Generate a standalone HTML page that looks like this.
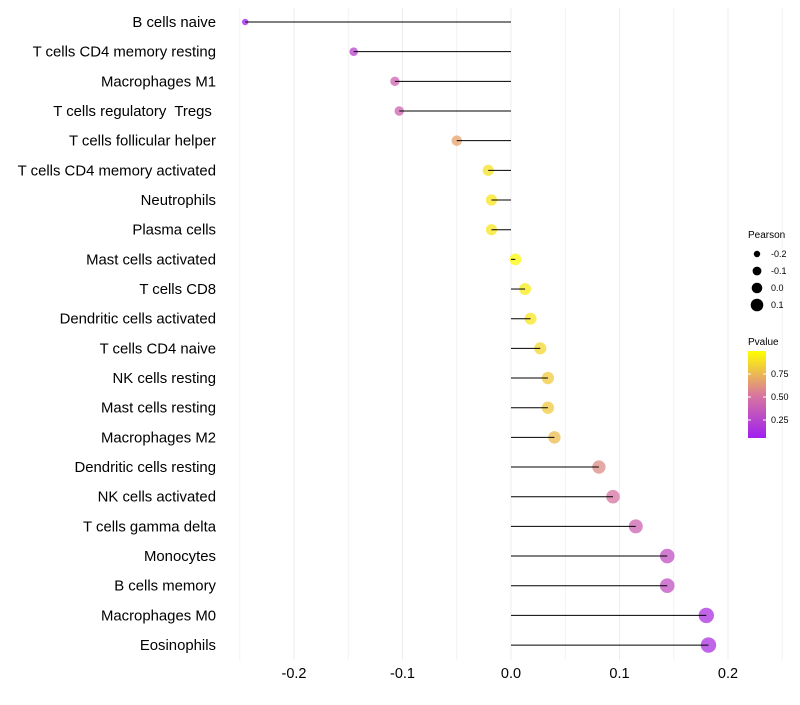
<!DOCTYPE html>
<html><head><meta charset="utf-8"><style>
body{margin:0;background:#fff;font-family:"Liberation Sans",sans-serif}
</style></head><body>
<svg id="chart" width="800" height="700" xmlns="http://www.w3.org/2000/svg">
<defs><linearGradient id="pg" x1="0" y1="1" x2="0" y2="0">
<stop offset="0" stop-color="#a020f0"/><stop offset="0.5" stop-color="#d9789c"/><stop offset="1" stop-color="#ffff00"/></linearGradient></defs>
<g id="grid"></g><g id="dots"></g><g id="marks"></g><g id="labels"></g>
<g font-size="9" fill="#000">
<text x="748" y="238" font-size="10">Pearson</text>
<circle cx="757" cy="254" r="3.2"/><text x="771" y="257">-0.2</text>
<circle cx="757" cy="271" r="4.4"/><text x="771" y="274">-0.1</text>
<circle cx="757" cy="288" r="5.3"/><text x="771" y="291">0.0</text>
<circle cx="757" cy="305" r="6.3"/><text x="771" y="308">0.1</text>
</g>
<g font-size="9" fill="#000">
<text x="748" y="345" font-size="10">Pvalue</text>
<rect x="748" y="351" width="18" height="87" fill="url(#pg)"/>
<line x1="748" y1="374" x2="751" y2="374" stroke="#fff"/><line x1="763" y1="374" x2="766" y2="374" stroke="#fff"/>
<line x1="748" y1="397" x2="751" y2="397" stroke="#fff"/><line x1="763" y1="397" x2="766" y2="397" stroke="#fff"/>
<line x1="748" y1="420" x2="751" y2="420" stroke="#fff"/><line x1="763" y1="420" x2="766" y2="420" stroke="#fff"/>
<text x="771" y="377">0.75</text><text x="771" y="400">0.50</text><text x="771" y="423">0.25</text>
</g>
</svg>
<script>
const categories=["B cells naive","T cells CD4 memory resting","Macrophages M1","T cells regulatory  Tregs ","T cells follicular helper","T cells CD4 memory activated","Neutrophils","Plasma cells","Mast cells activated","T cells CD8","Dendritic cells activated","T cells CD4 naive","NK cells resting","Mast cells resting","Macrophages M2","Dendritic cells resting","NK cells activated","T cells gamma delta","Monocytes","B cells memory","Macrophages M0","Eosinophils"];
const pearson=[-0.245,-0.145,-0.107,-0.103,-0.050,-0.021,-0.018,-0.018,0.004,0.013,0.018,0.027,0.034,0.034,0.040,0.081,0.094,0.115,0.144,0.144,0.180,0.182];
const pvalues=[0.03,0.25,0.42,0.42,0.68,0.9,0.92,0.92,0.99,0.94,0.92,0.87,0.82,0.82,0.77,0.6,0.5,0.42,0.32,0.32,0.15,0.15];
const xTicks=[-0.2,-0.1,0.0,0.1,0.2];
const xTickLabels=["-0.2","-0.1","0.0","0.1","0.2"];
const NS="http://www.w3.org/2000/svg";
const x=v=>511+v*1085;
const y=i=>22+i*29.67;
const rScale=v=>Math.max(1.5,5.8+v*10.5);
function lerp(a,b,t){return a.map((c,k)=>Math.round(c+(b[k]-c)*t));}
function col(p){const lo=[160,32,240],mid=[217,120,156],hi=[255,255,0];
 const t=Math.max(0,Math.min(1,(p-0.054)/(1.01-0.054)));
 const c=t<0.5?lerp(lo,mid,t*2):lerp(mid,hi,(t-0.5)*2);return `rgb(${c})`;}
function mk(tag,attrs,parent){const e=document.createElementNS(NS,tag);for(const k in attrs)e.setAttribute(k,attrs[k]);parent.appendChild(e);return e;}
const grid=document.getElementById('grid'),dots=document.getElementById('dots'),marks=document.getElementById('marks'),labels=document.getElementById('labels');
[-0.25,-0.15,-0.05,0.05,0.15,0.25].forEach(v=>{const l=mk('line',{x1:x(v),x2:x(v),y1:8,y2:660,stroke:'#f2f2f2','stroke-width':1},grid);

});
xTicks.forEach((v,i)=>{const l=mk('line',{x1:x(v),x2:x(v),y1:8,y2:660,stroke:'#ededed','stroke-width':1},grid);


const t=mk('text',{x:x(v),y:678,'text-anchor':'middle','font-size':14.5,fill:'#000'},labels);t.textContent=xTickLabels[i];

});
categories.forEach((c,i)=>{
 const d=mk('circle',{cx:x(pearson[i]),cy:y(i),r:rScale(pearson[i]),fill:col(pvalues[i]),'fill-opacity':0.75},dots);
 
 
 const l=mk('line',{x1:x(0),x2:x(pearson[i]),y1:y(i),y2:y(i),stroke:'#000','stroke-width':1},marks);
 
 
 const t=mk('text',{x:216,y:y(i)+5,'text-anchor':'end','font-size':14.9,fill:'#000'},labels);t.textContent=c;
 
 
 t.setAttribute('xml:space','preserve');t.style.whiteSpace='pre';
});
</script>
</body></html>
